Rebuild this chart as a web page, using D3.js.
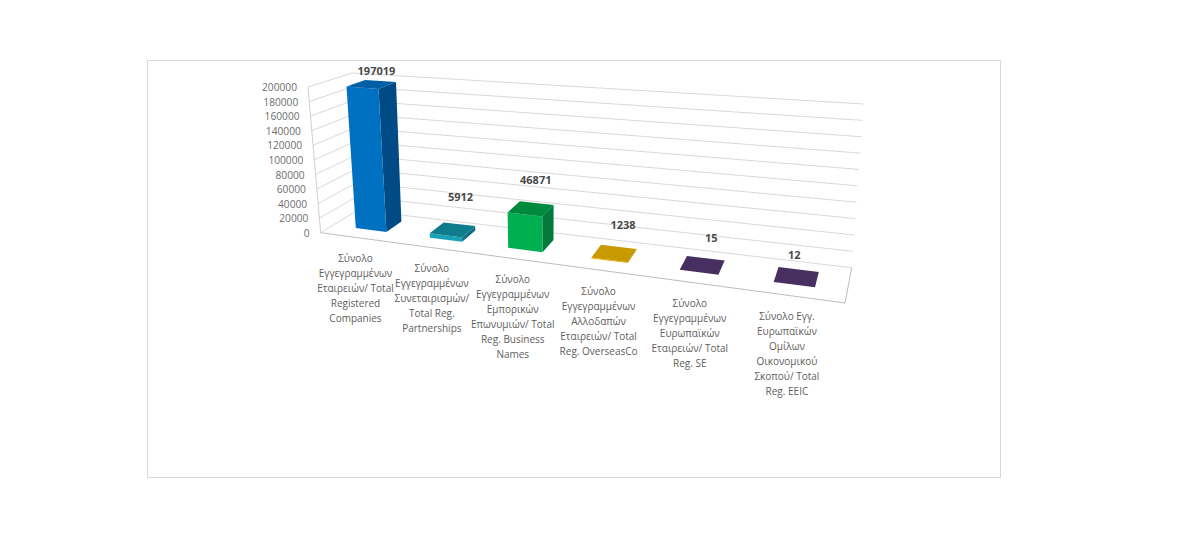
<!DOCTYPE html>
<html><head><meta charset="utf-8">
<script src="https://cdn.jsdelivr.net/npm/d3@7/dist/d3.min.js"></script>
<style>html,body{margin:0;padding:0;background:#fff}svg{display:block}text{font-family:"Open Sans","Noto Sans",sans-serif}</style>
</head><body><svg id="c" width="1200" height="536"></svg>
<script>
const categories = [
 ["Σύνολο","Εγγεγραμμένων","Εταιρειών/ Total","Registered","Companies"],
 ["Σύνολο","Εγγεγραμμένων","Συνεταιρισμών/","Total Reg.","Partnerships"],
 ["Σύνολο","Εγγεγραμμένων","Εμπορικών","Επωνυμιών/ Total","Reg. Business","Names"],
 ["Σύνολο","Εγγεγραμμένων","Αλλοδαπών","Εταιρειών/ Total","Reg. OverseasCo"],
 ["Σύνολο","Εγγεγραμμένων","Ευρωπαϊκών","Εταιρειών/ Total","Reg. SE"],
 ["Σύνολο Εγγ.","Ευρωπαϊκών","Ομίλων","Οικονομικού","Σκοπού/ Total","Reg. EEIC"]
];
const values = [197019, 5912, 46871, 1238, 15, 12];
const frontColors = ["#0070c0","#17a2b8","#00b050","#e8b000","#4a3560","#4a3560"];
const topColors   = ["#005ea6","#0e7c8c","#008a3e","#c99a00","#47305f","#47305f"];
const sideColors  = ["#004b85","#0f6f80","#00793a","#a88000","#3a2850","#3a2850"];
const labelOffsets = [[5,-13],[8,-33],[5,-29],[9,-28],[9,-27],[-2,-22]];

const FL=[320.7,232.7], FR=[845,303], BL=[358,210], BR=[851.7,267.7];
const VFL=[-12.7,-145.7], VFR=[13,-168], VBL=[-6,-137], VBR=[12.2,-163.7];
const yMax = 200000;
const yScale = d3.scaleLinear().domain([0,yMax]).range([0,1]);
const xBand = d3.scaleBand().domain(d3.range(values.length)).range([0,1]).paddingInner(0.58).paddingOuter(0.32);
const W = 1.2;
const warp = u => u/(W+(1-W)*u);
const lerp = (a,b,t)=>[a[0]+(b[0]-a[0])*t, a[1]+(b[1]-a[1])*t];
function project(u,d,v){
  const t = warp(u);
  const p = lerp(lerp(FL,FR,t),lerp(BL,BR,t),d);
  const h = lerp(lerp(VFL,VFR,t),lerp(VBL,VBR,t),d);
  const s = yScale(v);
  return [p[0]+h[0]*s, p[1]+h[1]*s];
}
const svg = d3.select("#c");
const poly = pts => pts.map(p=>p[0].toFixed(1)+","+p[1].toFixed(1)).join(" ");

svg.append("rect").attr("x",147.5).attr("y",60.5).attr("width",853).attr("height",417)
   .attr("fill","#fff").attr("stroke","#d9d9d9");

const line=(a,b,c="#d9d9d9")=>svg.append("line").attr("x1",a[0]).attr("y1",a[1]).attr("x2",b[0]).attr("y2",b[1])
   .attr("stroke",c).attr("stroke-width",1);

const ticks = yScale.ticks(10);
ticks.forEach(v=>{
  line(project(0,0,v),project(0,1,v));
  line(project(0,1,v),project(1,1,v));
  const a=project(0,0,v);
  svg.append("text").attr("x",a[0]-11).attr("y",a[1]+0.5).attr("dy","0.36em").attr("text-anchor","end")
     .attr("font-size",10.2).attr("fill","#6e6e6e").text(v);
});
line(project(0,0,0),project(0,0,yMax),"#cfcfcf");
line(project(0,0,0),project(1,0,0),"#bdbdbd");
line(project(1,0,0),project(1,1,0),"#bdbdbd");

const d0=0.33,d1=0.77;
values.forEach((v,i)=>{
  const u0=xBand(i),u1=u0+xBand.bandwidth();
  const A=project(u0,d0,0),B=project(u1,d0,0),C=project(u1,d1,0);
  const At=project(u0,d0,v),Bt=project(u1,d0,v),Ct=project(u1,d1,v),Dt=project(u0,d1,v);
  const g=svg.append("g");
  g.append("polygon").attr("points",poly([B,C,Ct,Bt])).attr("fill",sideColors[i]);
  g.append("polygon").attr("points",poly([A,B,Bt,At])).attr("fill",frontColors[i]);
  g.append("polygon").attr("points",poly([At,Bt,Ct,Dt])).attr("fill",topColors[i]);
  const mid=project((u0+u1)/2,(d0+d1)/2,v);
  svg.append("text").attr("x",mid[0]+labelOffsets[i][0]).attr("y",mid[1]+labelOffsets[i][1])
     .attr("dy","0.36em").attr("text-anchor","middle").attr("font-size",11).attr("font-weight",700)
     .attr("fill","#4a4a4a").text(v);
});

categories.forEach((lines,i)=>{
  const c=xBand(i)+xBand.bandwidth()/2;
  const p=project(c,0,0);
  const t=svg.append("text").attr("text-anchor","middle").attr("font-size",10).attr("fill","#606060");
  lines.forEach((l,k)=>t.append("tspan").attr("x",p[0]-4).attr("y",p[1]+20.5+k*15).attr("dy","0.36em").text(l));
});
</script></body></html>
